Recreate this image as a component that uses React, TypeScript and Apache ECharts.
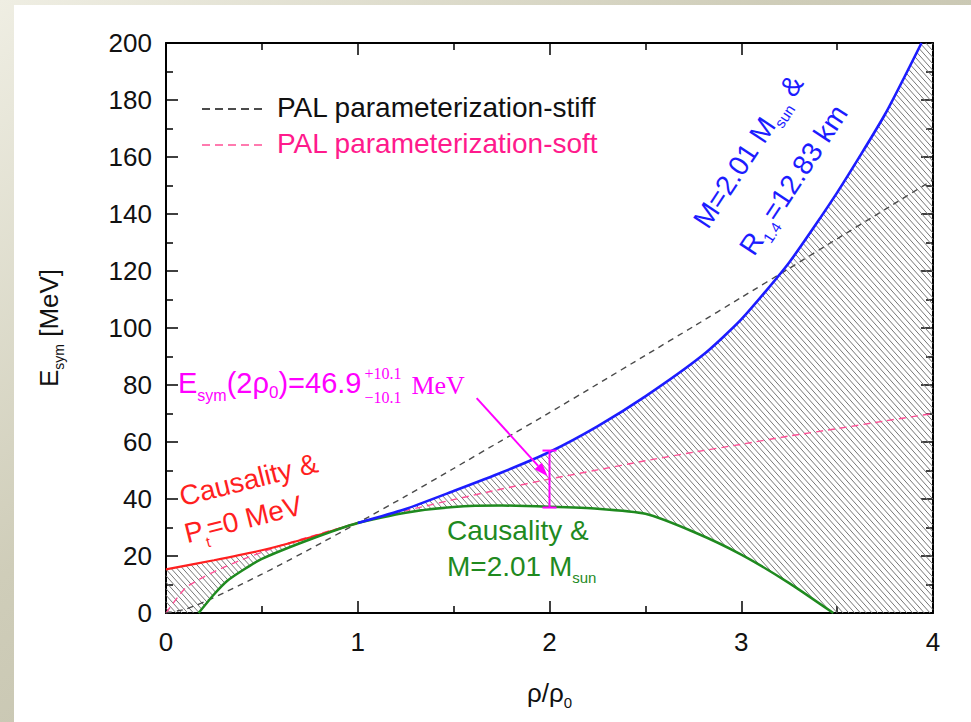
import React, { useEffect, useRef } from 'react';
import * as echarts from 'echarts';

// ---- data ----
const redX = [0, 0.25, 0.5, 0.75, 1];
const redY = [15.3, 18.5, 22.0, 26.5, 31.6];

const blueX = [1, 1.25, 1.5, 1.75, 2, 2.25, 2.5, 2.8, 3, 3.25, 3.5, 3.75, 3.94];
const blueY = [31.6, 36.5, 42.8, 49.3, 56.5, 65.5, 76, 90.5, 103, 123, 147.5, 175, 200];

const greenX = [0.17, 0.25, 0.32, 0.4, 0.5, 0.75, 1, 1.25, 1.5, 1.75, 2, 2.25, 2.5, 2.75, 3, 3.25, 3.48];
const greenY = [0, 6.5, 11.3, 15, 19.0, 25.8, 31.6, 35.2, 37.2, 37.7, 37.3, 36.6, 34.8, 28.5, 20.5, 10.5, 0];

const palX = [0, 0.1, 0.2, 0.3, 0.4, 0.5, 0.6, 0.75, 1, 1.25, 1.5, 1.75, 2, 2.25, 2.5, 2.75, 3, 3.25, 3.5, 3.75, 4];
const stiffY = [0, 1.3, 3.9, 7.0, 10.3, 13.6, 17.1, 22.4, 31.6, 41.0, 50.7, 60.5, 70.3, 80.3, 90.4, 100.5, 110.7, 120.9, 131.3, 141.6, 152];
const softY = [0, 8.7, 12.8, 16.0, 18.8, 21.3, 23.7, 26.8, 31.6, 35.9, 39.8, 43.5, 47.0, 50.2, 53.4, 56.4, 59.2, 62.1, 64.7, 67.4, 70];

const errX = [2];
const errLow = [37];
const errHigh = [57];

const arrowFrom = [1.62, 75.4];
const arrowTo = [1.99, 48.0];

const xMin = 0, xMax = 4, xStep = 1;
const yMin = 0, yMax = 200, yStep = 20;

const legendNames = ['PAL parameterization-stiff', 'PAL parameterization-soft'];

// ---- styles ----
const FONT = "'Liberation Sans', Arial, Helvetica, sans-serif";
const SERIF = "'Liberation Serif', 'Times New Roman', serif";
const C_BLUE = '#1c1cff';
const C_RED = '#ff1f1f';
const C_GREEN = '#1f8a1f';
const C_MAG = '#ff00ff';
const C_PINK = '#ff4f95';
const C_STIFF = '#4a4a4a';

const zip = (xs: number[], ys: number[]) => xs.map((x, i) => [x, ys[i]]);

function measure(text: string, font: string) {
  const c = document.createElement('canvas').getContext('2d');
  if (!c) return text.length * 14;
  c.font = font;
  return c.measureText(text).width;
}

function hatchSegments(poly: number[][], hSpacing: number, slope: number) {
  let bMin = Infinity, bMax = -Infinity;
  for (const [x, y] of poly) {
    const b = y - slope * x;
    bMin = Math.min(bMin, b);
    bMax = Math.max(bMax, b);
  }
  const db = hSpacing * slope;
  const segs: number[][] = [];
  for (let b = Math.ceil(bMin / db) * db; b <= bMax; b += db) {
    const xs: number[] = [];
    for (let i = 0; i < poly.length; i++) {
      const [x1, y1] = poly[i];
      const [x2, y2] = poly[(i + 1) % poly.length];
      const f1 = y1 - slope * x1 - b;
      const f2 = y2 - slope * x2 - b;
      if ((f1 < 0) !== (f2 < 0)) {
        const t = f1 / (f1 - f2);
        xs.push(x1 + t * (x2 - x1));
      }
    }
    xs.sort((a, c) => a - c);
    for (let k = 0; k + 1 < xs.length; k += 2) {
      segs.push([xs[k], slope * xs[k] + b, xs[k + 1], slope * xs[k + 1] + b]);
    }
  }
  return segs;
}

export default function App() {
  const ref = useRef<HTMLDivElement>(null);

  useEffect(() => {
    document.body.style.margin = '0';
    if (!ref.current) return;
    const chart = echarts.init(ref.current, undefined, { renderer: 'svg' });

    // hatched region polygon in data coordinates
    const upper = [...zip(redX, redY), ...zip(blueX, blueY).slice(1), [xMax, yMax]];
    const lower = zip(greenX, greenY).reverse();
    const regionPoly = [[xMin, 0], ...upper, [xMax, 0], ...lower];

    const axisLine = { show: true, onZero: false, lineStyle: { color: '#000', width: 2 } };
    const axisTick = { show: true, inside: true, length: 12, lineStyle: { color: '#000', width: 1.5 } };
    const minorTick = { show: true, splitNumber: 2, length: 7, lineStyle: { color: '#000', width: 1.5 } };
    const labelStyle = { fontSize: 26, color: '#111', fontFamily: FONT };

    // magenta annotation layout
    const t1x = 178, t1y = 383;
    const w1 =
      measure('E', `29px ${FONT}`) +
      measure('sym', `16px ${FONT}`) +
      measure('(2ρ', `29px ${FONT}`) +
      measure('0', `17px ${FONT}`) +
      measure(')=46.9', `29px ${FONT}`);
    const t2x = t1x + w1 + 3;
    const t3x = t2x + measure('+10.1', `16px ${SERIF}`) + 10;

    const subA = (size: number, color: string, pad: number) => ({
      fontSize: size, fontFamily: FONT, fill: color, color, padding: [pad, 0, 0, 0],
    });
    const mainA = (size: number, color: string) => ({ fontSize: size, fontFamily: FONT, fill: color, color });

    const textEl = (x: number, y: number, rotation: number, text: string, color: string, size = 28, subPad = 22) => ({
      type: 'text', x, y, rotation, z: 100, silent: true,
      style: {
        text, x: 0, y: 0, align: 'left', verticalAlign: 'middle',
        fontSize: size, fontFamily: FONT, fill: color,
        rich: { m: mainA(size, color), s: subA(15, color, subPad) },
      },
    });

    const smoothLine = { symbol: 'none', smooth: 0.2 };

    const option: any = {
      animation: false,
      backgroundColor: 'transparent',
      grid: { left: 166, top: 43, width: 767, height: 570, containLabel: false },
      xAxis: [
        {
          type: 'value', min: xMin, max: xMax, interval: xStep, position: 'bottom',
          axisLine, axisTick, minorTick, splitLine: { show: false },
          axisLabel: { ...labelStyle, margin: 16 },
          name: '{a|ρ/ρ}{s|0}', nameLocation: 'middle', nameGap: 62,
          nameTextStyle: {
            rich: { a: { fontSize: 26, fontFamily: FONT, color: '#111' }, s: { fontSize: 15, fontFamily: FONT, color: '#111', padding: [20, 0, 0, 0] } },
          },
        },
        {
          type: 'value', min: xMin, max: xMax, interval: xStep, position: 'top',
          axisLine, axisTick, minorTick, splitLine: { show: false }, axisLabel: { show: false },
        },
      ],
      yAxis: [
        {
          type: 'value', min: yMin, max: yMax, interval: yStep, position: 'left',
          axisLine, axisTick, minorTick, splitLine: { show: false },
          axisLabel: { ...labelStyle, margin: 14 },
          name: '{a|E}{s|sym}{a| [MeV]}', nameLocation: 'middle', nameGap: 100, nameRotate: 90,
          nameTextStyle: {
            rich: { a: { fontSize: 26, fontFamily: FONT, color: '#111' }, s: { fontSize: 14, fontFamily: FONT, color: '#111', padding: [20, 0, 0, 0] } },
          },
        },
        {
          type: 'value', min: yMin, max: yMax, interval: yStep, position: 'right',
          axisLine, axisTick, minorTick, splitLine: { show: false }, axisLabel: { show: false },
        },
      ],
      series: [
        {
          type: 'custom', name: 'allowed region', silent: true, z: 1,
          data: [[0, 0]],
          renderItem: (_p: any, api: any) => {
            const pix = regionPoly.map((pt) => api.coord(pt));
            const segs = hatchSegments(pix, 5.8, 1.12);
            return {
              type: 'group',
              children: segs.map((s) => ({
                type: 'line',
                shape: { x1: s[0], y1: s[1], x2: s[2], y2: s[3] },
                style: { stroke: '#777777', lineWidth: 1 },
              })),
            };
          },
        },
        {
          type: 'line', name: legendNames[1], data: zip(palX, softY), ...smoothLine, z: 3,
          lineStyle: { color: C_PINK, width: 1.4, type: [7, 5] },
        },
        {
          type: 'line', name: legendNames[0], data: zip(palX, stiffY), ...smoothLine, z: 3,
          lineStyle: { color: C_STIFF, width: 1.4, type: [6, 5] },
        },
        {
          type: 'line', name: 'Causality & Pt=0', data: zip(redX, redY), ...smoothLine, z: 4,
          lineStyle: { color: C_RED, width: 2.2 },
        },
        {
          type: 'line', name: 'Causality & M=2.01', data: zip(greenX, greenY), ...smoothLine, z: 4,
          lineStyle: { color: C_GREEN, width: 2.5 },
        },
        {
          type: 'line', name: 'M=2.01 & R1.4', data: zip(blueX, blueY), ...smoothLine, z: 5,
          lineStyle: { color: C_BLUE, width: 2.6 },
        },
        {
          type: 'custom', name: 'Esym(2rho0)', silent: true, z: 6,
          data: errX.map((x, i) => [x, errLow[i], errHigh[i]]),
          renderItem: (_p: any, api: any) => {
            const x = api.value(0);
            const pLo = api.coord([x, api.value(1)]);
            const pHi = api.coord([x, api.value(2)]);
            const cap = 7;
            const st = { stroke: C_MAG, lineWidth: 2 };
            return {
              type: 'group',
              children: [
                { type: 'line', shape: { x1: pLo[0], y1: pLo[1], x2: pHi[0], y2: pHi[1] }, style: st },
                { type: 'line', shape: { x1: pLo[0] - cap, y1: pLo[1], x2: pLo[0] + cap, y2: pLo[1] }, style: st },
                { type: 'line', shape: { x1: pHi[0] - cap, y1: pHi[1], x2: pHi[0] + cap, y2: pHi[1] }, style: st },
              ],
            };
          },
        },
        {
          type: 'custom', name: 'arrow', silent: true, z: 7,
          data: [[arrowFrom[0], arrowFrom[1], arrowTo[0], arrowTo[1]]],
          renderItem: (_p: any, api: any) => {
            const p0 = api.coord([api.value(0), api.value(1)]);
            const p1 = api.coord([api.value(2), api.value(3)]);
            const dx = p1[0] - p0[0], dy = p1[1] - p0[1];
            const len = Math.sqrt(dx * dx + dy * dy);
            const ux = dx / len, uy = dy / len;
            const hl = 14, hw = 5;
            const bx = p1[0] - ux * hl, by = p1[1] - uy * hl;
            return {
              type: 'group',
              children: [
                { type: 'line', shape: { x1: p0[0], y1: p0[1], x2: bx, y2: by }, style: { stroke: C_MAG, lineWidth: 2 } },
                {
                  type: 'polygon',
                  shape: { points: [[p1[0], p1[1]], [bx - uy * hw, by + ux * hw], [bx + uy * hw, by - ux * hw]] },
                  style: { fill: C_MAG },
                },
              ],
            };
          },
        },
      ],
      graphic: [
        {
          type: 'rect', z: -20, silent: true,
          shape: { x: 0, y: 0, width: 971, height: 722 },
          style: {
            fill: new echarts.graphic.LinearGradient(0, 0, 1, 1, [
              { offset: 0, color: '#efeee3' },
              { offset: 0.4, color: '#cfcdb9' },
              { offset: 1, color: '#b5b39e' },
            ]),
          },
        },
        { type: 'rect', z: -19, silent: true, shape: { x: 14, y: 5, width: 957, height: 717 }, style: { fill: '#ffffff' } },
        // legend
        { type: 'line', z: 100, silent: true, shape: { x1: 202, y1: 109, x2: 267, y2: 109 }, style: { stroke: '#111', lineWidth: 1.5, lineDash: [8, 5] } },
        { type: 'text', z: 100, silent: true, style: { text: legendNames[0], x: 277, y: 107, align: 'left', verticalAlign: 'middle', fontSize: 28, fontFamily: FONT, fill: '#111' } },
        { type: 'line', z: 100, silent: true, shape: { x1: 202, y1: 145, x2: 267, y2: 145 }, style: { stroke: C_PINK, lineWidth: 1.5, lineDash: [8, 5] } },
        { type: 'text', z: 100, silent: true, style: { text: legendNames[1], x: 277, y: 143, align: 'left', verticalAlign: 'middle', fontSize: 28, fontFamily: FONT, fill: '#ff1a8c' } },
        // red
        textEl(180, 497, 0.245, '{m|Causality &}', C_RED),
        textEl(185, 534, 0.245, '{m|P}{s|t}{m|=0 MeV}', C_RED, 28, 26),
        // green
        textEl(447, 530, 0, '{m|Causality &}', C_GREEN),
        textEl(447, 566, 0, '{m|M=2.01 M}{s|sun}', C_GREEN),
        // blue
        textEl(700, 225, 0.99, '{m|M=2.01 M}{s|sun}{m| &}', C_BLUE),
        textEl(746, 252, 0.99, '{m|R}{s|1.4}{m|=12.83 km}', C_BLUE),
        // magenta annotation
        {
          type: 'text', z: 100, silent: true,
          style: {
            text: '{m|E}{s|sym}{m|(2ρ}{z|0}{m|)=46.9}', x: t1x, y: t1y, align: 'left', verticalAlign: 'middle',
            fontSize: 29, fontFamily: FONT, fill: C_MAG,
            rich: { m: mainA(29, C_MAG), s: subA(16, C_MAG, 24), z: subA(17, C_MAG, 18) },
          },
        },
        { type: 'text', z: 100, silent: true, style: { text: '+10.1', x: t2x, y: 373, align: 'left', verticalAlign: 'middle', fontSize: 16, fontFamily: SERIF, fill: C_MAG } },
        { type: 'text', z: 100, silent: true, style: { text: '\u221210.1', x: t2x, y: 397, align: 'left', verticalAlign: 'middle', fontSize: 16, fontFamily: SERIF, fill: C_MAG } },
        { type: 'text', z: 100, silent: true, style: { text: 'MeV', x: t3x, y: 385, align: 'left', verticalAlign: 'middle', fontSize: 26, fontFamily: SERIF, fill: C_MAG } },
      ],
    };

    chart.setOption(option);
    return () => chart.dispose();
  }, []);

  return <div ref={ref} style={{ width: 971, height: 722 }} />;
}
